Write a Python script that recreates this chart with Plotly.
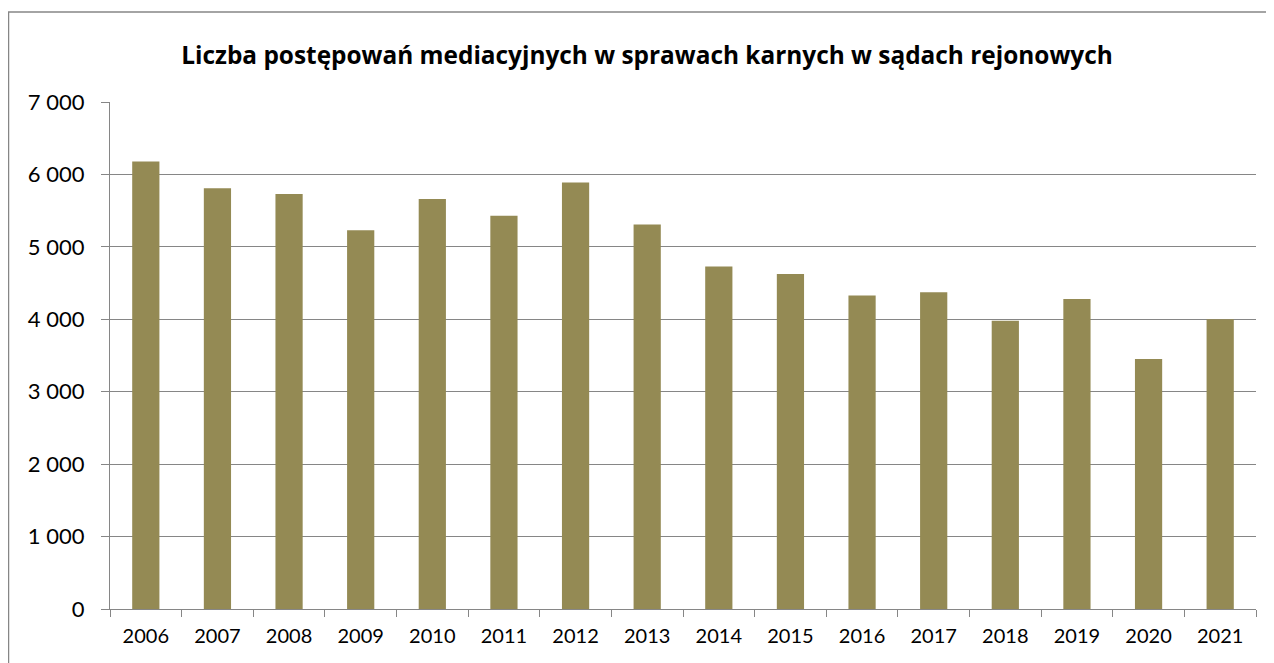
import plotly.graph_objects as go

years = ["2006", "2007", "2008", "2009", "2010", "2011", "2012", "2013",
         "2014", "2015", "2016", "2017", "2018", "2019", "2020", "2021"]
values = [6180, 5810, 5730, 5230, 5660, 5430, 5890, 5310,
          4730, 4625, 4330, 4375, 3980, 4280, 3450, 4000]
y_ticks = [0, 1000, 2000, 3000, 4000, 5000, 6000, 7000]
title_text = "Liczba postępowań mediacyjnych w sprawach karnych w sądach rejonowych"

W, H = 1274, 663
ML, MR, MT, MB = 102, 26, 94, 62
PW, PH = W - ML - MR, H - MT - MB

fig = go.Figure()
fig.add_trace(go.Bar(x=years, y=values, marker=dict(color="#948A54", line=dict(width=0)),
                     hoverinfo="x+y"))

grey = "#868686"
fig.update_layout(
    width=W, height=H,
    margin=dict(l=ML, r=MR, t=MT, b=MB),
    paper_bgcolor="white", plot_bgcolor="white",
    separators=". ",
    bargap=0.62,
    showlegend=False,
    title=dict(text="<b>" + title_text + "</b>", x=639 / W, xref="container", xanchor="center",
               y=1 - 47 / H, yref="container", yanchor="middle",
               font=dict(family="Open Sans, sans-serif", size=24.4, color="black")),
    font=dict(family="Lato, Open Sans, sans-serif", color="black"),
    xaxis=dict(type="category", tickson="boundaries", ticks="outside", ticklen=7,
               tickcolor=grey, showline=True, linecolor=grey, linewidth=1.2,
               showgrid=False, tickfont=dict(size=20), ticklabelstandoff=9,
               fixedrange=True),
    yaxis=dict(range=[0, 7000], tickvals=y_ticks, tickformat=",d", ticks="outside",
               ticklen=8, tickcolor=grey, showline=True, linecolor=grey, linewidth=1.2,
               showgrid=True, gridcolor=grey, gridwidth=1.2, zeroline=False,
               tickfont=dict(size=22), ticklabelstandoff=12, fixedrange=True),
    shapes=[dict(type="rect", xref="paper", yref="paper",
                 x0=(0.5 - ML) / PW, x1=1.2, y0=-0.3, y1=1 + (MT - 4) / PH,
                 line=dict(color=grey, width=1.5), fillcolor="rgba(0,0,0,0)", layer="below")],
)

fig.write_html("out.html")
